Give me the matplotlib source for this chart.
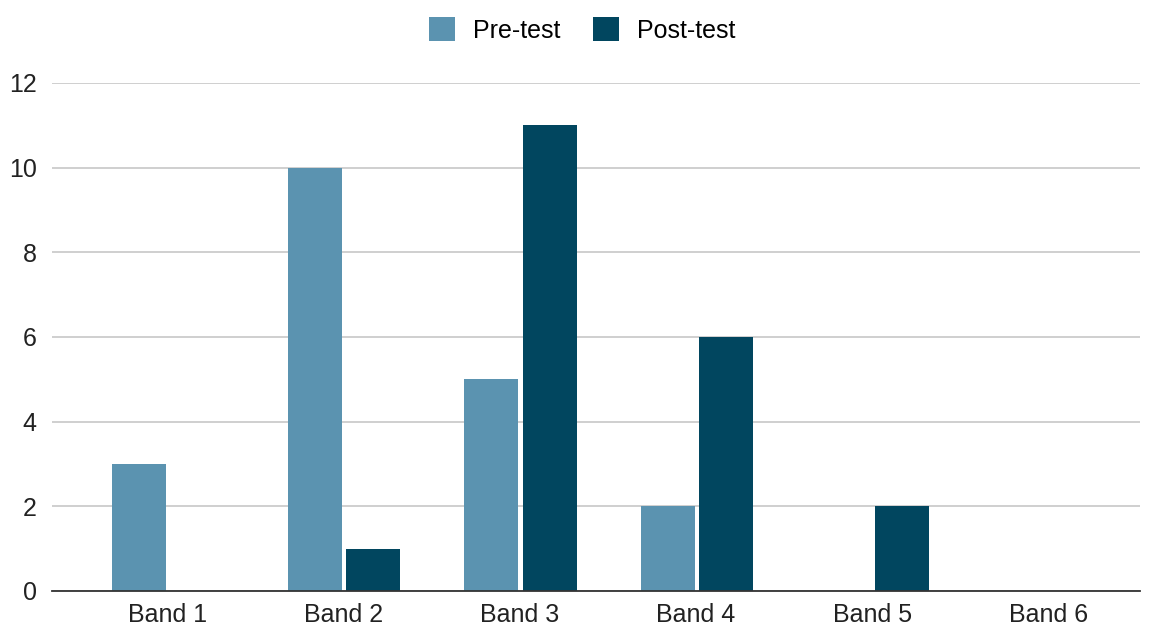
import numpy as np
import matplotlib.pyplot as plt

plt.rcParams['font.family'] = ['Liberation Sans', 'DejaVu Sans']

categories = ["Band 1", "Band 2", "Band 3", "Band 4", "Band 5", "Band 6"]
pre_test = [3, 10, 5, 2, 0, 0]
post_test = [0, 1, 11, 6, 2, 0]

pre_color = "#5b93b0"
post_color = "#01465f"

fig = plt.figure(figsize=(11.56, 6.28), dpi=100)
ax = fig.add_axes([52 / 1156, 37 / 628, 1088 / 1156, 508 / 628])

x = np.arange(len(categories))
w = 0.306
off = w / 2 + 0.012

ax.bar(x - off + 0.005, pre_test, w, color=pre_color, label="Pre-test", zorder=3)
ax.bar(x + off + 0.005, post_test, w, color=post_color, label="Post-test", zorder=3)

ax.set_xlim(-0.653, 5.52)
ax.set_ylim(0, 12)
ax.set_yticks([0, 2, 4, 6, 8, 10, 12])
ax.set_xticks(x)
ax.set_xticklabels(categories)
ax.yaxis.grid(True, color="#cccccc", linewidth=1.3, zorder=0)
ax.tick_params(axis="both", length=0, labelsize=18, colors="#222222")
ax.tick_params(axis="y", pad=11)
ax.tick_params(axis="x", pad=9)
for s in ["top", "right", "left"]:
    ax.spines[s].set_visible(False)
ax.spines["bottom"].set_color("#333333")
ax.spines["bottom"].set_linewidth(1.3)
ax.spines["bottom"].set_zorder(4)

fig.legend(loc="upper center", bbox_to_anchor=(0.504, 1.0), ncol=2, frameon=False,
           fontsize=18, handlelength=1.04, handleheight=1.04, columnspacing=1.3,
           handletextpad=0.72, borderaxespad=0.3)

fig.savefig("out.png", dpi=100)
